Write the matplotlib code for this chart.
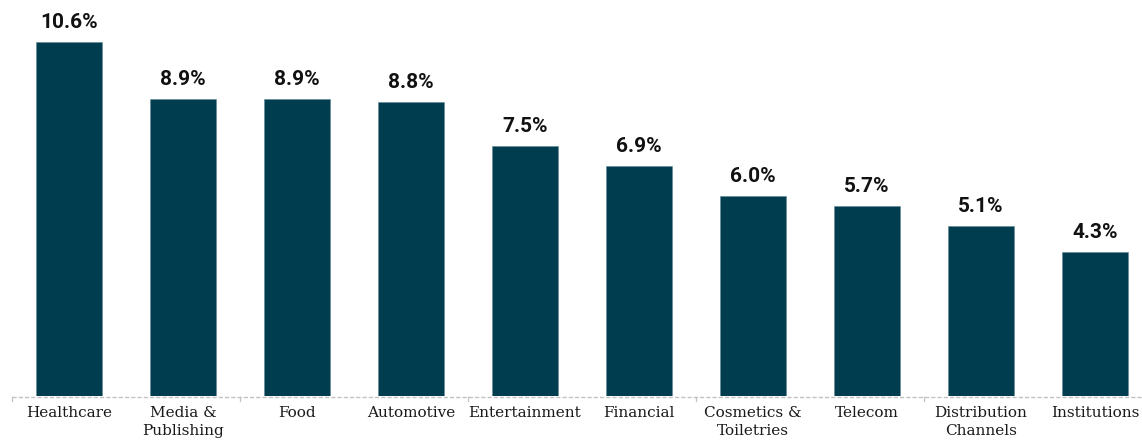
import matplotlib.pyplot as plt

# Share of spend by sector (%)
sectors = ['Healthcare', 'Media &\nPublishing', 'Food', 'Automotive', 'Entertainment',
           'Financial', 'Cosmetics &\nToiletries', 'Telecom', 'Distribution\nChannels', 'Institutions']
shares = [10.6, 8.9, 8.9, 8.8, 7.5, 6.9, 6.0, 5.7, 5.1, 4.3]

bar_color = '#003d4f'

fig = plt.figure(figsize=(11.42, 4.40), dpi=100)
ax = fig.add_axes([12 / 1142, 0.1, 1130 / 1142, 0.8955])

x = range(len(sectors))
ax.bar(x, shares, width=0.58, color=bar_color, edgecolor='#5f8a98', linewidth=0.4, zorder=2)

for xi, v in zip(x, shares):
    ax.text(xi, v + 0.3, f'{v:.1f}%', ha='center', va='bottom',
            fontsize=15, fontweight='bold', family='Roboto', color='#111111')

ax.set_xlim(-0.5, -0.5 + 1130 / 114)
ax.set_ylim(0, 11.8)

# dashed baseline with a few small ticks
ax.axhline(-0.03, color='#c2c2c2', linestyle=(0, (3, 1.5)), linewidth=1.0,
           zorder=3, clip_on=False)
for b in [-0.5, 1.5, 3.5, 5.5, 7.5]:
    ax.plot([b, b], [-0.03, -0.15], color='#c2c2c2', linewidth=0.9, clip_on=False)

ax.set_xticks(list(x))
ax.set_xticklabels(sectors, family='DejaVu Serif', fontsize=11, color='#1a1a1a',
                   linespacing=1.35, va='top')
ax.tick_params(axis='x', length=0, pad=7)
ax.set_yticks([])
for s in ax.spines.values():
    s.set_visible(False)

fig.savefig('out.png', dpi=100)
